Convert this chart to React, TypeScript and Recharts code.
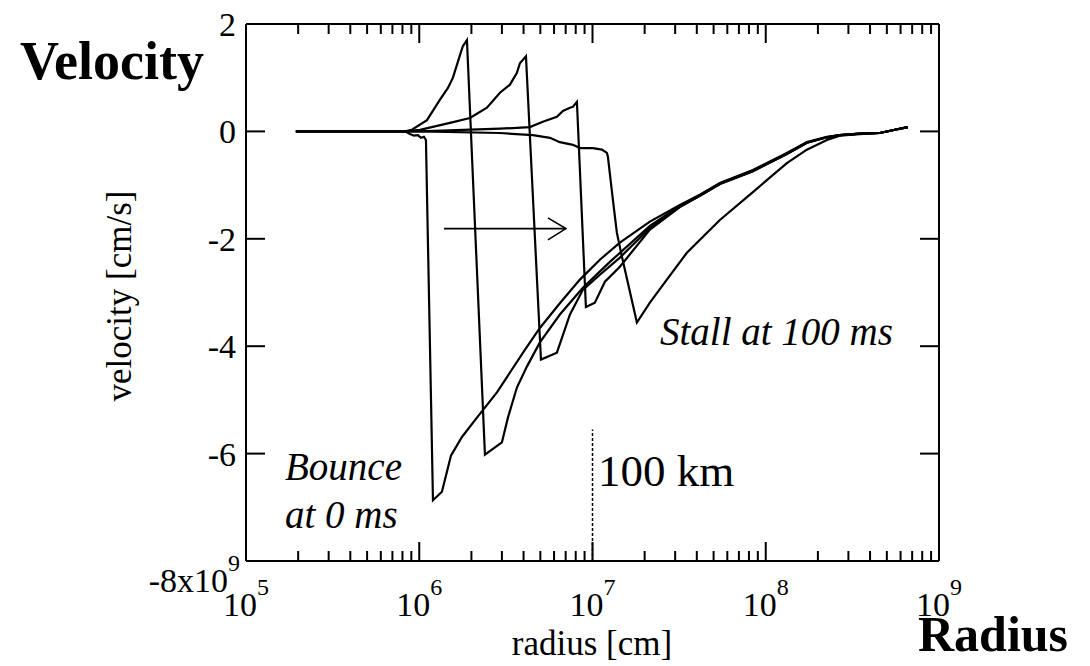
import React from "react";
import { LineChart, Line, XAxis, YAxis, ReferenceLine } from "recharts";

const FONT = "Liberation Serif";

// radius [cm] and velocity [10^9 cm/s] for each snapshot after bounce
const bounce0ms: [number, number][] = [
  [1.94e5, 0], [8.27e5, 0], [8.84e5, -0.05], [9.32e5, -0.08], [9.83e5, -0.07],
  [1.023e6, -0.12], [1.065e6, -0.1], [1.093e6, -0.16], [1.2e6, -6.87],
  [1.352e6, -6.71], [1.524e6, -6.04], [1.764e6, -5.69], [2.153e6, -5.33],
  [2.808e6, -4.86], [3.338e6, -4.49], [4.07e6, -4.07], [4.97e6, -3.66],
  [6.48e6, -3.2], [8.46e6, -2.76], [1.103e7, -2.39], [1.439e7, -2.07],
  [2.144e7, -1.68], [3.193e7, -1.37], [4.166e7, -1.18], [5.435e7, -0.96],
  [8.43e7, -0.72], [1.324e8, -0.4], [1.727e8, -0.2], [2.253e8, -0.1],
  [2.677e8, -0.07], [3.49e8, -0.04], [4.554e8, -0.03], [5.56e8, 0.03], [6.61e8, 0.08],
];

const snapshot2: [number, number][] = [
  [1.94e5, 0], [8.27e5, 0], [9.07e5, 0.03], [1.108e6, 0.21], [1.317e6, 0.59],
  [1.464e6, 0.81], [1.565e6, 1.0], [1.718e6, 1.42], [1.787e6, 1.59], [1.885e6, 1.7],
  [2.394e6, -6.02], [3.0e6, -5.79], [3.25e6, -5.33], [3.662e6, -4.77],
  [4.18e6, -4.38], [4.97e6, -3.93], [6.48e6, -3.41], [8.8e6, -2.91],
  [1.26e7, -2.43], [2.144e7, -1.76], [3.193e7, -1.39], [4.166e7, -1.19],
  [5.435e7, -0.97], [8.43e7, -0.73], [1.324e8, -0.41], [1.727e8, -0.21],
  [2.253e8, -0.11], [2.677e8, -0.07], [3.49e8, -0.04], [4.554e8, -0.03],
  [5.56e8, 0.03], [6.61e8, 0.08],
];

const snapshot3: [number, number][] = [
  [1.94e5, 0], [8.27e5, 0], [1.01e6, 0.03], [1.504e6, 0.16], [1.962e6, 0.25],
  [2.458e6, 0.44], [2.922e6, 0.72], [3.338e6, 0.87], [3.662e6, 1.09],
  [3.81e6, 1.27], [4.13e6, 1.4], [5.04e6, -4.25], [6.23e6, -4.12],
  [7.41e6, -3.41], [8.8e6, -2.95], [1.103e7, -2.67], [1.439e7, -2.35],
  [2.144e7, -1.8], [3.193e7, -1.4], [4.166e7, -1.2], [5.435e7, -0.98],
  [8.43e7, -0.74], [1.324e8, -0.42], [1.727e8, -0.21], [2.253e8, -0.11],
  [2.677e8, -0.07], [3.49e8, -0.04], [4.554e8, -0.03], [5.56e8, 0.03], [6.61e8, 0.08],
];

const snapshot4: [number, number][] = [
  [1.94e5, 0], [1.01e6, 0], [2.922e6, 0.05], [4.35e6, 0.08], [5.17e6, 0.18],
  [6.23e6, 0.27], [6.75e6, 0.38], [7.41e6, 0.44], [7.71e6, 0.46], [8.13e6, 0.55],
  [9.16e6, -3.27], [1.032e7, -3.19], [1.179e7, -2.8], [1.439e7, -2.52],
  [2.144e7, -1.83], [3.193e7, -1.41], [4.166e7, -1.2], [5.435e7, -0.98],
  [8.43e7, -0.74], [1.324e8, -0.42], [1.727e8, -0.21], [2.253e8, -0.11],
  [2.677e8, -0.07], [3.49e8, -0.04], [4.554e8, -0.03], [5.56e8, 0.03], [6.61e8, 0.08],
];

const stall100ms: [number, number][] = [
  [1.94e5, 0], [1.01e6, 0], [2.922e6, -0.03], [4.53e6, -0.07], [5.68e6, -0.12],
  [6.48e6, -0.2], [7.71e6, -0.25], [8.46e6, -0.31], [1.005e7, -0.31],
  [1.133e7, -0.34], [1.211e7, -0.4], [1.227e7, -0.47], [1.311e7, -1.27],
  [1.383e7, -1.89], [1.478e7, -2.33], [1.804e7, -3.56], [2.144e7, -3.19],
  [2.687e7, -2.76], [3.505e7, -2.26], [5.435e7, -1.65], [8.43e7, -1.13],
  [1.324e8, -0.59], [1.727e8, -0.34], [2.253e8, -0.16], [2.677e8, -0.08],
  [3.49e8, -0.05], [4.554e8, -0.03], [5.56e8, 0.03], [6.61e8, 0.08],
];

// shock propagation arrow
const arrowShaft: [number, number][] = [[1.389e6, -1.81], [7.02e6, -1.81]];
const arrowHead: [number, number][] = [[5.53e6, -1.61], [7.02e6, -1.81], [5.53e6, -2.02]];

const radiusTicks = [1e5, 1e6, 1e7, 1e8, 1e9];
const velocityTicks = [-8, -6, -4, -2, 0, 2];

const curves = [bounce0ms, snapshot2, snapshot3, snapshot4, stall100ms];

const toPoints = (pairs: [number, number][]) => pairs.map(([r, v]) => ({ r, v }));

// majors plus 2..9 minors per decade
const allRadiusTicks: number[] = [];
for (let e = 5; e < 9; e++) {
  for (let m = 1; m < 10; m++) allRadiusTicks.push(m * Math.pow(10, e));
}
allRadiusTicks.push(1e9);

const isMajor = (v: number) => {
  const l = Math.log10(v);
  return Math.abs(l - Math.round(l)) < 1e-6;
};

const BottomTick = (props: any) => {
  const { x, y, payload } = props;
  const major = isMajor(payload.value);
  const exp = Math.round(Math.log10(payload.value));
  return (
    <g>
      <line x1={x} y1={y} x2={x} y2={y - (major ? 19 : 10)} stroke="#000" strokeWidth={2} />
      {major && radiusTicks.includes(payload.value) && (
        <text x={x} y={y + 55} textAnchor="middle" style={{ fontFamily: FONT }} fontSize={34} fill="#000">
          10<tspan dy={-21} fontSize={24}>{exp}</tspan>
        </text>
      )}
    </g>
  );
};

const TopTick = (props: any) => {
  const { x, y, payload } = props;
  const major = isMajor(payload.value);
  return <line x1={x} y1={y} x2={x} y2={y + (major ? 19 : 10)} stroke="#000" strokeWidth={2} />;
};

const LeftTick = (props: any) => {
  const { x, y, payload } = props;
  const v = payload.value;
  return (
    <g>
      <line x1={x} y1={y} x2={x + 19} y2={y} stroke="#000" strokeWidth={2} />
      {v === -8 ? (
        <text x={x - 6} y={y + 31} textAnchor="end" style={{ fontFamily: FONT }} fontSize={34} fill="#000">
          -8x10<tspan dy={-21} fontSize={24}>9</tspan>
        </text>
      ) : (
        <text x={x - 10} y={y + 12} textAnchor="end" style={{ fontFamily: FONT }} fontSize={34} fill="#000">
          {v}
        </text>
      )}
    </g>
  );
};

const RightTick = (props: any) => {
  const { x, y } = props;
  return <line x1={x} y1={y} x2={x - 19} y2={y} stroke="#000" strokeWidth={2} />;
};

const axisLine = { stroke: "#000", strokeWidth: 2 };

export default function App() {
  return (
    <div style={{ position: "absolute", left: 0, top: 0, width: 1090, height: 666, background: "#fff" }}>
      <LineChart width={1090} height={666} margin={{ top: 14, right: 141, bottom: 65, left: 186 }}>
        <XAxis
          xAxisId="b"
          dataKey="r"
          type="number"
          scale="log"
          domain={[1e5, 1e9]}
          allowDataOverflow
          ticks={allRadiusTicks}
          interval={0}
          tick={<BottomTick />}
          tickLine={false}
          tickSize={0}
          tickMargin={0}
          height={40}
          axisLine={axisLine}
        />
        <XAxis
          xAxisId="t"
          orientation="top"
          dataKey="r"
          type="number"
          scale="log"
          domain={[1e5, 1e9]}
          allowDataOverflow
          ticks={allRadiusTicks}
          interval={0}
          tick={<TopTick />}
          tickLine={false}
          tickSize={0}
          tickMargin={0}
          height={10}
          axisLine={axisLine}
        />
        <YAxis
          yAxisId="l"
          type="number"
          domain={[-8, 2]}
          allowDataOverflow
          ticks={velocityTicks}
          interval={0}
          tick={<LeftTick />}
          tickLine={false}
          tickSize={0}
          tickMargin={0}
          width={60}
          axisLine={axisLine}
        />
        <YAxis
          yAxisId="r"
          orientation="right"
          type="number"
          domain={[-8, 2]}
          allowDataOverflow
          ticks={velocityTicks}
          interval={0}
          tick={<RightTick />}
          tickLine={false}
          tickSize={0}
          tickMargin={0}
          width={10}
          axisLine={axisLine}
        />
        {curves.map((c, i) => (
          <Line
            key={i}
            xAxisId="b"
            yAxisId="l"
            data={toPoints(c)}
            dataKey="v"
            type="linear"
            stroke="#000"
            strokeWidth={2.2}
            dot={false}
            activeDot={false}
            isAnimationActive={false}
          />
        ))}
        <Line
          xAxisId="t"
          yAxisId="r"
          data={toPoints(bounce0ms)}
          dataKey="v"
          stroke="none"
          dot={false}
          activeDot={false}
          isAnimationActive={false}
        />
        <Line xAxisId="b" yAxisId="l" data={toPoints(arrowShaft)} dataKey="v" stroke="#000" strokeWidth={1.6} dot={false} activeDot={false} isAnimationActive={false} />
        <Line xAxisId="b" yAxisId="l" data={toPoints(arrowHead)} dataKey="v" stroke="#000" strokeWidth={1.6} dot={false} activeDot={false} isAnimationActive={false} />
        <ReferenceLine
          xAxisId="b"
          yAxisId="l"
          segment={[{ x: 1e7, y: -8 }, { x: 1e7, y: -5.55 }]}
          stroke="#000"
          strokeWidth={1.5}
          strokeDasharray="3 2"
        />
      </LineChart>
      <svg width={1090} height={666} style={{ position: "absolute", left: 0, top: 0, pointerEvents: "none", fontFamily: FONT }}>
        <g fill="#000">
          <text x={20} y={79} fontSize={54} fontWeight="bold">Velocity</text>
          <text x={918} y={651} fontSize={50} fontWeight="bold">Radius</text>
          <text x={592} y={655} fontSize={35} textAnchor="middle">radius [cm]</text>
          <text x={131} y={296} fontSize={35} textAnchor="middle" transform="rotate(-90 131 296)">
            velocity [cm/s]
          </text>
          <text x={285} y={480} fontSize={39} fontStyle="italic">Bounce</text>
          <text x={285} y={528} fontSize={39} fontStyle="italic">at 0 ms</text>
          <text x={660} y={345} fontSize={39} fontStyle="italic">Stall at 100 ms</text>
          <text x={598} y={486} fontSize={45}>100 km</text>
        </g>
      </svg>
    </div>
  );
}
